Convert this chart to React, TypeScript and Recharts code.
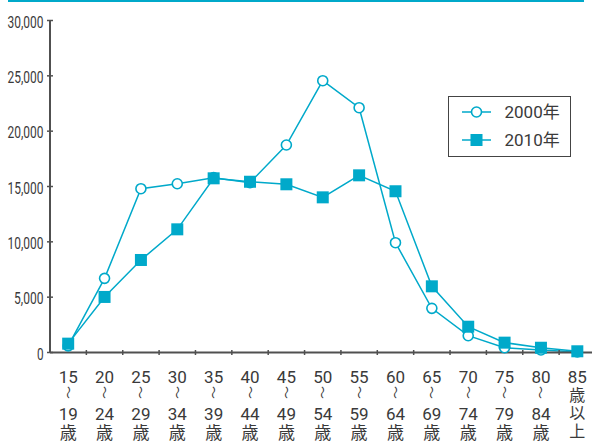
import { Legend, Line, LineChart, XAxis, YAxis } from "recharts"

// age brackets, 5-year steps
const ageGroups = [
  "15〜19歳", "20〜24歳", "25〜29歳", "30〜34歳", "35〜39歳",
  "40〜44歳", "45〜49歳", "50〜54歳", "55〜59歳", "60〜64歳",
  "65〜69歳", "70〜74歳", "75〜79歳", "80〜84歳", "85歳以上",
]
const pop2000 = [600, 6700, 14800, 15250, 15800, 15350, 18750, 24560, 22120, 9920, 3990, 1520, 430, 230, 50]
const pop2010 = [800, 5020, 8360, 11130, 15740, 15430, 15200, 14020, 16010, 14570, 5980, 2330, 890, 430, 110]
const yTicks = [0, 5000, 10000, 15000, 20000, 25000, 30000]

const CYAN = "#00a9ca"
const AXIS = "#505050"
const TEXT = "#3a3a3a"
const FONT = "Roboto, 'Noto Sans CJK JP', sans-serif"

const data = ageGroups.map((g, i) => ({ age: g, y2000: pop2000[i], y2010: pop2010[i] }))

function splitLabel(s: string): string[] {
  const m = s.match(/^(\d+)〜(\d+)(歳)$/)
  if (m) return [m[1], "〜", m[2], m[3]]
  const n = s.match(/^(\d+)(.)(.)(.)$/)
  return n ? [n[1], n[2], n[3], n[4]] : [s]
}

function YTick({ x, y, payload }: any) {
  const label = Number(payload.value).toLocaleString("en-US")
  const digits = label.replace(/,/g, "").length
  const commas = label.length - digits
  return (
    <g>
      <line x1={x - 3} x2={x + 3} y1={y} y2={y} stroke={AXIS} strokeWidth={1.5} />
      <text
        x={x - 6.5}
        y={y + 7}
        textAnchor="end"
        fontSize={17}
        fontFamily={FONT}
        fill={TEXT}
        textLength={digits * 6.6 + commas * 3}
        lengthAdjust="spacingAndGlyphs"
      >
        {label}
      </text>
    </g>
  )
}

function XTick({ x, y, payload }: any) {
  const lines = splitLabel(String(payload.value))
  const bx = x + (payload.offset ?? 0)
  const wave = lines[1] === "〜"
  const baselines = wave ? [30.5, 40, 67.5, 86] : [30.5, 48.5, 66.5, 84.5]
  return (
    <g>
      <line x1={bx} x2={bx} y1={y - 2.5} y2={y + 2.5} stroke={AXIS} strokeWidth={1.5} />
      {lines.map((t, i) =>
        t === "〜" ? (
          <text
            key={i}
            x={x}
            y={y + baselines[i]}
            textAnchor="middle"
            dominantBaseline="central"
            fontSize={13}
            fontFamily={FONT}
            fill={TEXT}
            transform={`rotate(90 ${x} ${y + baselines[i]})`}
          >
            {t}
          </text>
        ) : (
          <text
            key={i}
            x={x}
            y={y + baselines[i]}
            textAnchor="middle"
            fontSize={!wave && i > 0 ? 16 : 17}
            fontFamily={FONT}
            fill={TEXT}
          >
            {t}
          </text>
        )
      )}
    </g>
  )
}

function OpenDot({ cx, cy }: any) {
  return <circle cx={cx} cy={cy} r={5} fill="#fff" stroke={CYAN} strokeWidth={1.6} />
}

function SquareDot({ cx, cy }: any) {
  return <rect x={cx - 6} y={cy - 6} width={12} height={12} fill={CYAN} />
}

function LegendBox() {
  const rows = [
    { label: "2000年", square: false },
    { label: "2010年", square: true },
  ]
  return (
    <div
      style={{
        position: "relative",
        width: 123,
        height: 61,
        boxSizing: "border-box",
        border: "1.5px solid #444",
        background: "#fff",
        fontFamily: FONT,
        fontSize: 17,
        color: TEXT,
      }}
    >
      {rows.map((r, i) => (
        <div
          key={r.label}
          style={{ position: "absolute", left: 12.5, top: 5 + i * 27.5, height: 20, display: "flex", alignItems: "center" }}
        >
          <svg width={30} height={20}>
            <line x1={0} x2={29} y1={10} y2={10} stroke={CYAN} strokeWidth={1.5} />
            {r.square ? (
              <rect x={8.5} y={4} width={12} height={12} fill={CYAN} />
            ) : (
              <circle cx={14.5} cy={10} r={5} fill="#fff" stroke={CYAN} strokeWidth={1.6} />
            )}
          </svg>
          <span style={{ marginLeft: 13, lineHeight: "20px" }}>{r.label}</span>
        </div>
      ))}
    </div>
  )
}

export default function App() {
  return (
    <div style={{ position: "absolute", left: 0, top: 0, width: 592, height: 441, overflow: "hidden", background: "#fff" }}>
      <div style={{ position: "absolute", left: 8, top: 0, width: 576, height: 2, background: CYAN, zIndex: 2 }} />
      <LineChart width={600} height={441} data={data} margin={{ top: 20.5, right: 4.5, bottom: 0, left: 0 }}>
        <XAxis
          dataKey="age"
          scale="band"
          interval={0}
          height={88.5}
          tickSize={0}
          tickMargin={0}
          tickLine={false}
          axisLine={{ stroke: AXIS, strokeWidth: 2 }}
          tick={<XTick />}
        />
        <YAxis
          width={50}
          domain={[0, 30000]}
          ticks={yTicks}
          interval={0}
          tickSize={0}
          tickMargin={0}
          tickLine={false}
          axisLine={{ stroke: AXIS, strokeWidth: 2 }}
          tick={<YTick />}
        />
        <Legend
          layout="horizontal"
          align="center"
          verticalAlign="middle"
          content={() => <LegendBox />}
          wrapperStyle={{ left: 448, top: 96, width: 123, height: 61 }}
        />
        <Line
          dataKey="y2000"
          name="2000年"
          stroke={CYAN}
          strokeWidth={1.5}
          dot={<OpenDot />}
          activeDot={false}
          isAnimationActive={false}
        />
        <Line
          dataKey="y2010"
          name="2010年"
          stroke={CYAN}
          strokeWidth={1.5}
          dot={<SquareDot />}
          activeDot={false}
          isAnimationActive={false}
        />
      </LineChart>
    </div>
  )
}
